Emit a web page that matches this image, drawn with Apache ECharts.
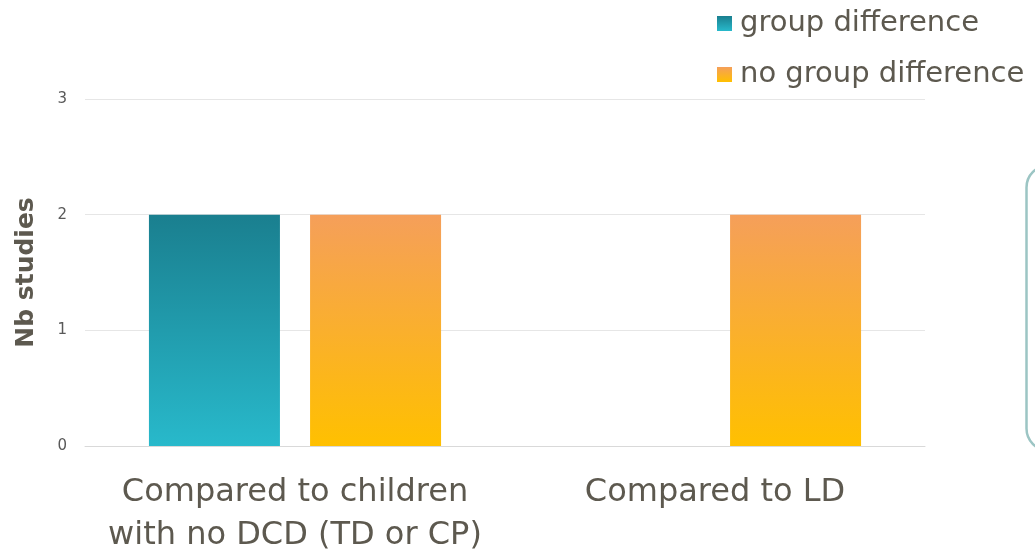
<!DOCTYPE html>
<html><head><meta charset="utf-8">
<script src="https://cdn.jsdelivr.net/npm/echarts@6/dist/echarts.min.js"></script>
<style>html,body{margin:0;padding:0;background:#fff}#c{width:1035px;height:557px}</style>
</head><body><div id="c"></div>
<script>
const categories = ['Compared to children\nwith no DCD (TD or CP)', 'Compared to LD'];
const groupDifference = [2, 0];
const noGroupDifference = [2, 2];
const yTicks = [0, 1, 2, 3];

const chart = echarts.init(document.getElementById('c'));
const teal = new echarts.graphic.LinearGradient(0, 0, 0, 1, [{offset: 0, color: '#1a7f8f'}, {offset: 1, color: '#28b9cb'}]);
const orange = new echarts.graphic.LinearGradient(0, 0, 0, 1, [{offset: 0, color: '#f59f5a'}, {offset: 1, color: '#ffc000'}]);
const font = '"DejaVu Sans", sans-serif';
chart.setOption({
  animation: false,
  backgroundColor: '#fff',
  grid: {left: 85, right: 110, top: 99, bottom: 111},
  legend: {
    orient: 'vertical', left: 712, top: 4, itemWidth: 15, itemHeight: 15, itemGap: 22,
    icon: 'rect',
    textStyle: {fontFamily: font, fontSize: 29, color: '#5d594f', padding: [0, 0, 0, 3]},
    data: ['group difference', 'no group difference']
  },
  xAxis: {
    type: 'category', data: categories,
    axisLine: {lineStyle: {color: '#d9d9d9', width: 1}},
    axisTick: {show: false},
    axisLabel: {fontFamily: font, fontSize: 32, color: '#5d594f', lineHeight: 43, margin: 25, interval: 0}
  },
  yAxis: {
    type: 'value', min: 0, max: 3, interval: 1,
    name: 'Nb studies', nameLocation: 'middle', nameGap: 46, nameRotate: 90,
    nameTextStyle: {fontFamily: font, fontSize: 25, fontWeight: 'bold', color: '#5d594f'},
    axisLabel: {fontFamily: font, fontSize: 15, color: '#595959', margin: 18,
      formatter: v => yTicks.includes(v) ? String(v) : ''},
    splitLine: {lineStyle: {color: '#e6e6e6', width: 1}},
    axisLine: {show: false}, axisTick: {show: false}
  },
  series: [
    {name: 'group difference', type: 'bar', data: groupDifference, barWidth: 131, barGap: '23%',
     itemStyle: {color: teal}},
    {name: 'no group difference', type: 'bar', data: noGroupDifference, barWidth: 131,
     itemStyle: {color: orange}}
  ],
  graphic: [{
    type: 'rect', left: 1024, top: 163,
    shape: {x: 0, y: 0, width: 60, height: 285, r: 22},
    style: {fill: 'none', stroke: '#9cc5c4', lineWidth: 2.5}
  }]
});
</script></body></html>
